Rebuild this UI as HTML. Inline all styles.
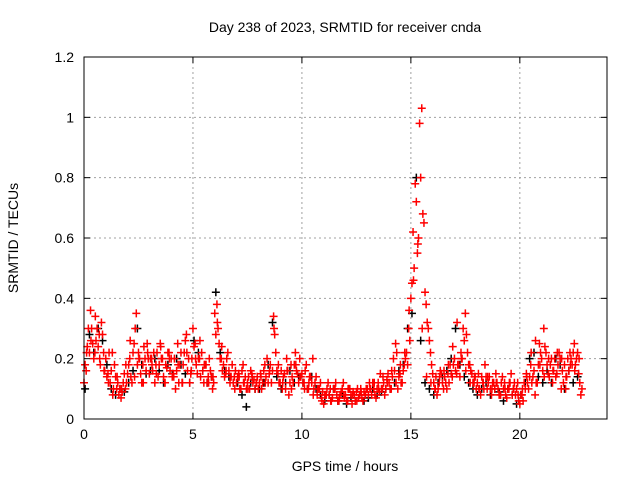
<!DOCTYPE html>
<html><head><meta charset="utf-8"><style>
body{margin:0;background:#fff}
svg{display:block;font-family:"Liberation Sans",sans-serif}
</style></head><body>
<svg id="chart" width="640" height="480">
<rect width="640" height="480" fill="#fff"/>
<text x="345" y="32" font-size="14" text-anchor="middle">Day 238 of 2023, SRMTID for receiver cnda</text>
<text x="345" y="471" font-size="14" text-anchor="middle">GPS time / hours</text>
<text transform="translate(18,238) rotate(-90)" font-size="14" text-anchor="middle">SRMTID / TECUs</text>
<g id="grid"></g><g id="ticks"></g><g id="marks"></g>
<rect x="84" y="57" width="523" height="362" fill="none" stroke="#000" stroke-width="1"/>
</svg>
<script>
const xTicks=[0,5,10,15,20];
const yTicks=[0,0.2,0.4,0.6,0.8,1,1.2];
const yTickLabels=["0","0.2","0.4","0.6","0.8","1","1.2"];
const redStep=0.1;
const redValues=[
.12,.16,.30,.36,.25,.22,.30,.28,.32,.22,
.20,.15,.12,.22,.18,.10,.08,.07,.12,.10,
.15,.20,.12,.25,.35,.22,.15,.18,.20,.25,
.15,.20,.22,.18,.14,.25,.20,.12,.17,.22,
.20,.15,.10,.25,.18,.12,.22,.28,.20,.15,
.30,.25,.15,.20,.22,.12,.18,.14,.16,.10,
.35,.38,.25,.20,.18,.15,.22,.12,.18,.14,
.12,.15,.10,.18,.14,.12,.10,.15,.13,.12,
.10,.15,.12,.18,.20,.15,.12,.34,.22,.15,
.12,.10,.15,.20,.08,.18,.12,.22,.15,.20,
.15,.12,.18,.10,.14,.20,.12,.08,.10,.07,
.05,.08,.12,.10,.07,.10,.08,.06,.09,.12,
.08,.06,.10,.05,.08,.09,.07,.10,.06,.08,
.10,.12,.08,.10,.07,.12,.15,.10,.08,.13,
.12,.10,.20,.25,.10,.15,.12,.18,.22,.30,
.40,.62,.78,.55,.98,1.03,.65,.38,.30,.22,
.15,.10,.08,.12,.15,.10,.12,.15,.18,.14,
.20,.15,.18,.22,.30,.35,.22,.18,.15,.12,
.10,.15,.08,.12,.18,.10,.14,.08,.12,.15,
.10,.08,.14,.12,.07,.10,.15,.10,.08,.12,
.05,.08,.12,.15,.10,.18,.14,.08,.12,.25,
.20,.30,.22,.15,.18,.12,.20,.15,.22,.10,
.12,.10,.20,.22,.18,.25,.20,.15,.08];
const redValues2=[
.18,.24,.22,.30,.20,.26,.24,.18,.28,.16,
.14,.22,.16,.10,.14,.12,.10,.09,.15,.12,
.18,.14,.22,.30,.18,.20,.12,.24,.16,.20,
.20,.16,.12,.22,.18,.20,.14,.18,.22,.16,
.14,.20,.16,.12,.22,.18,.26,.16,.12,.20,
.24,.18,.20,.14,.16,.18,.12,.20,.14,.12,
.28,.30,.20,.16,.14,.20,.16,.14,.12,.16,
.14,.10,.16,.12,.10,.14,.16,.12,.10,.14,
.12,.10,.16,.14,.12,.18,.16,.28,.16,.12,
.16,.14,.10,.16,.12,.14,.18,.16,.12,.14,
.12,.16,.10,.14,.12,.10,.14,.10,.12,.09,
.08,.10,.08,.06,.10,.12,.06,.08,.10,.07,
.06,.10,.08,.09,.06,.10,.08,.07,.09,.10,
.08,.10,.12,.08,.10,.09,.10,.12,.10,.15,
.10,.14,.16,.22,.14,.12,.16,.20,.18,.26,
.45,.50,.72,.60,.80,.68,.42,.32,.26,.18,
.12,.14,.10,.16,.12,.14,.10,.12,.15,.18,
.16,.18,.14,.20,.26,.28,.18,.16,.12,.14,
.12,.10,.14,.10,.14,.12,.10,.12,.10,.12,
.08,.12,.10,.08,.10,.12,.08,.12,.10,.06,
.08,.06,.10,.12,.14,.12,.16,.12,.18,.22,
.16,.24,.18,.14,.20,.16,.14,.18,.20,.16,
.18,.14,.16,.20,.22,.18,.22,.12,.10];
const redStep3=0.2;
const redValues3=[
.22,.26,.34,.20,.16,.12,.08,.14,.10,.18,
.26,.14,.20,.12,.22,.18,.15,.24,.12,.20,
.14,.18,.12,.22,.16,.20,.26,.18,.12,.14,
.32,.24,.16,.14,.10,.14,.12,.10,.14,.12,
.14,.12,.16,.30,.18,.12,.16,.10,.18,.14,
.10,.12,.08,.10,.06,.08,.06,.10,.07,.08,
.10,.08,.06,.09,.08,.10,.12,.10,.14,.12,
.16,.12,.18,.22,.36,.46,.58,.30,.14,.12,
.10,.14,.16,.18,.24,.32,.20,.16,.12,.14,
.10,.12,.14,.10,.12,.08,.10,.12,.10,.08,
.10,.14,.22,.26,.18,.14,.20,.16,.22,.20,
.14,.18,.16,.20];
const blackStep=0.2;
const blackValues=[
.10,.28,.22,.30,.26,.18,.10,.08,.10,.09,
.12,.16,.30,.18,.15,.16,.20,.16,.12,.18,
.15,.20,.18,.15,.12,.26,.22,.16,.12,.14,
.42,.22,.16,.14,.12,.12,.08,.04,.12,.10,
.10,.12,.18,.32,.14,.10,.12,.16,.12,.14,
.12,.10,.14,.10,.08,.06,.08,.10,.06,.08,
.05,.07,.06,.08,.06,.07,.10,.08,.09,.10,
.10,.12,.16,.18,.30,.35,.80,.26,.12,.10,
.08,.12,.14,.16,.20,.30,.18,.14,.12,.10,
.08,.10,.12,.08,.10,.09,.06,.10,.08,.05,
.08,.12,.20,.22,.14,.12,.16,.12,.20,.18,
.10,.16,.12,.14];
const svg=document.getElementById('chart');
const NS='http://www.w3.org/2000/svg';
const X0=84,X1=607,Y0=419,Y1=57,XMAX=24,YMAX=1.2;
const xs=v=>X0+(X1-X0)*v/XMAX;
const ys=v=>Y0-(Y0-Y1)*v/YMAX;
function mk(tag,attrs,parent){const e=document.createElementNS(NS,tag);for(const k in attrs)e.setAttribute(k,attrs[k]);parent.appendChild(e);return e;}
const grid=document.getElementById('grid'),ticks=document.getElementById('ticks'),marks=document.getElementById('marks');
xTicks.forEach(t=>{
 const x=xs(t);
 if(t>0){const g=mk('line',{x1:x,x2:x,y1:Y0,y2:Y1,stroke:'#a0a0a0','stroke-dasharray':'2,3'},grid);
 
 }
 mk('line',{x1:x,x2:x,y1:Y0,y2:Y0-6,stroke:'#000'},ticks);
 mk('line',{x1:x,x2:x,y1:Y1,y2:Y1+6,stroke:'#000'},ticks);
 const l=mk('text',{x:x,y:Y0+20,'font-size':14,'text-anchor':'middle'},ticks);l.textContent=t;
 
 
});
yTicks.forEach((t,i)=>{
 const y=ys(t);
 if(t>0&&t<YMAX){const g=mk('line',{x1:X0,x2:X1,y1:y,y2:y,stroke:'#a0a0a0','stroke-dasharray':'2,3'},grid);
 
 }
 mk('line',{x1:X0,x2:X0+6,y1:y,y2:y,stroke:'#000'},ticks);
 mk('line',{x1:X1,x2:X1-6,y1:y,y2:y,stroke:'#000'},ticks);
 const l=mk('text',{x:X0-10,y:y+5,'font-size':14,'text-anchor':'end'},ticks);l.textContent=yTickLabels[i];
 
 
});
function plus(t,v,color,name){
 const x=xs(t),y=ys(v);
 const p=mk('path',{d:`M${x-4},${y}h8M${x},${y-4}v8`,stroke:color,'stroke-width':1.5,fill:'none'},marks);
 
 
}
blackValues.forEach((v,i)=>plus(i*blackStep+0.05,v,'#000','black-point'));
redValues.forEach((v,i)=>plus(i*redStep,v,'#ff0000','red-point'));
redValues2.forEach((v,i)=>plus(i*redStep+0.05,v,'#ff0000','red-point'));
redValues3.forEach((v,i)=>plus(i*redStep3+0.12,v,'#ff0000','red-point'));
</script>
</body></html>
